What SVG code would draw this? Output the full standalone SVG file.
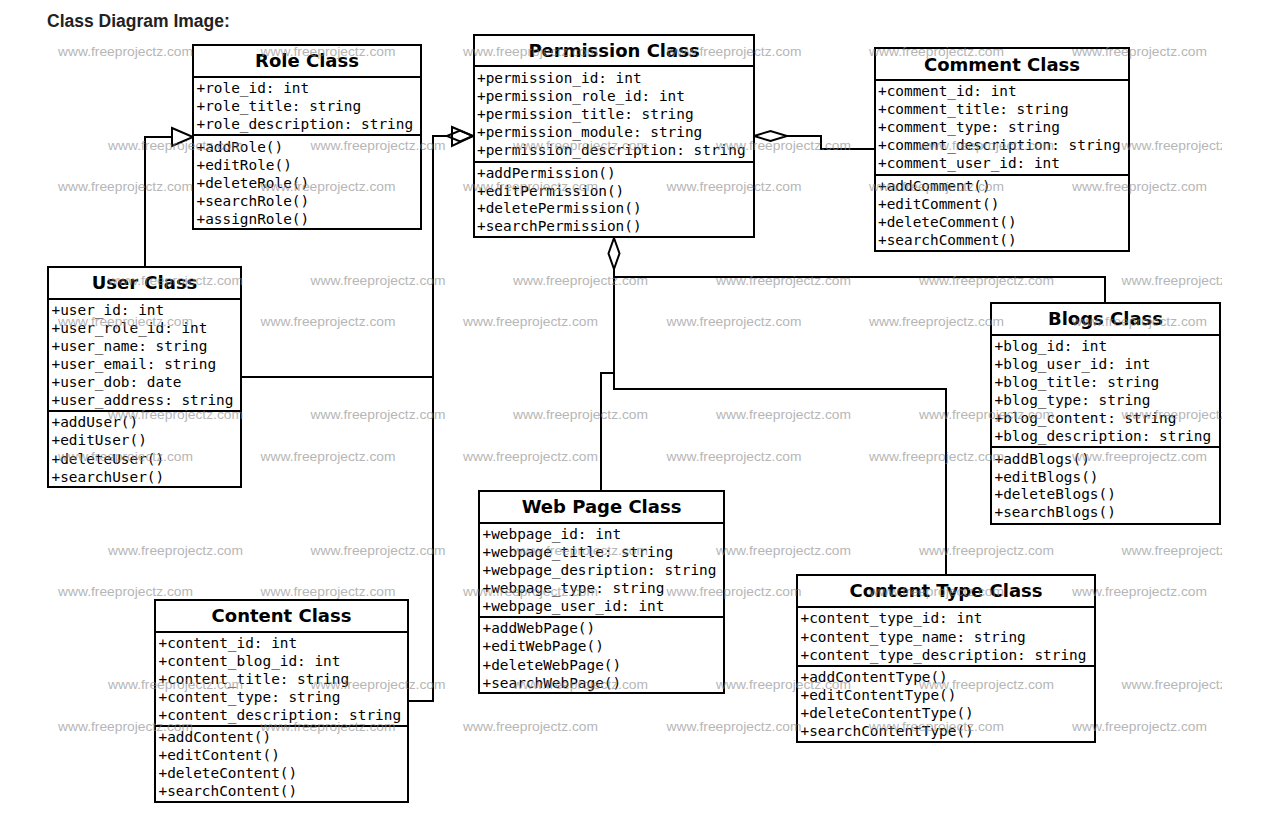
<svg xmlns="http://www.w3.org/2000/svg" width="1268" height="814" viewBox="0 0 1268 814">
  <style>
    .box { fill: #fff; stroke: #000; stroke-width: 2; }
    .sep { stroke: #000; stroke-width: 2; }
    .ttl { font-family: "DejaVu Sans", "Liberation Sans", sans-serif; font-weight: bold; font-size: 18px; text-anchor: middle; fill: #000; }
    .mem { font-family: "DejaVu Sans Mono", "Liberation Mono", monospace; font-size: 14.4px; fill: #000; }
    .wire { fill: none; stroke: #000; stroke-width: 2; }
    .head { fill: #fff; stroke: #000; stroke-width: 2; stroke-linejoin: miter; }
    .hollow { fill: none; stroke: #000; stroke-width: 2; }
    .wm { font-family: "Liberation Sans", Arial, sans-serif; font-size: 13.7px; fill: #8a8a8a; opacity: 0.62; }
    .heading { font-family: "Liberation Sans", Arial, sans-serif; font-weight: bold; font-size: 17.5px; fill: #222; }
  </style>
  <defs>
    <clipPath id="wmClip"><rect x="0" y="0" width="1222" height="814"/></clipPath>
  </defs>

  <rect x="0" y="0" width="1268" height="814" fill="#fff"/>
  <text class="heading" x="47" y="27">Class Diagram Image:</text>

  <!-- connectors -->
  <g id="connectors">
    <!-- User generalises Role -->
    <path class="wire" d="M145 267 V137 H172"/>
    <polygon class="head" points="172,128 193,137 172,146"/>
    <!-- User / Content to Permission via shared bus -->
    <path class="wire" d="M408 701 H433 V136 H447"/>
    <path class="wire" d="M241 377 H433"/>
    <polygon class="head" points="452,127 473,136 452,146"/>
    <polygon class="hollow" points="447,136 460,130.5 473,136 460,141.5"/>
    <!-- Comment aggregated into Permission -->
    <polygon class="head" points="754,136 770.5,131 787,136 770.5,141"/>
    <path class="wire" d="M787 136 H821 V149 H875"/>
    <!-- Permission bottom aggregation -->
    <polygon class="head" points="614,238 619.5,253.5 614,269 608.5,253.5"/>
    <path class="wire" d="M614 269 V389 H946 V575"/>
    <path class="wire" d="M614 277 H1105 V303"/>
    <path class="wire" d="M601 491 V373 H614"/>
  </g>

  <!-- Role -->
  <g id="role">
    <rect class="box" x="193" y="45" width="228" height="184"/>
    <line class="sep" x1="193" y1="77" x2="421" y2="77"/>
    <line class="sep" x1="193" y1="135" x2="421" y2="135"/>
    <text class="ttl" x="307" y="67">Role Class</text>
    <text class="mem" x="196.5" y="93">+role_id: int</text>
    <text class="mem" x="196.5" y="111">+role_title: string</text>
    <text class="mem" x="196.5" y="129">+role_description: string</text>
    <text class="mem" x="196.5" y="151.5">+addRole()</text>
    <text class="mem" x="196.5" y="169.5">+editRole()</text>
    <text class="mem" x="196.5" y="187.5">+deleteRole()</text>
    <text class="mem" x="196.5" y="205.5">+searchRole()</text>
    <text class="mem" x="196.5" y="223.5">+assignRole()</text>
  </g>

  <!-- Permission -->
  <g id="permission">
    <rect class="box" x="474" y="35" width="280" height="202"/>
    <line class="sep" x1="474" y1="66" x2="754" y2="66"/>
    <line class="sep" x1="474" y1="162" x2="754" y2="162"/>
    <text class="ttl" x="614" y="57">Permission Class</text>
    <text class="mem" x="477" y="83.3">+permission_id: int</text>
    <text class="mem" x="477" y="101.1">+permission_role_id: int</text>
    <text class="mem" x="477" y="118.9">+permission_title: string</text>
    <text class="mem" x="477" y="136.7">+permission_module: string</text>
    <text class="mem" x="477" y="154.5">+permission_description: string</text>
    <text class="mem" x="477" y="177.7">+addPermission()</text>
    <text class="mem" x="477" y="195.5">+editPermission()</text>
    <text class="mem" x="477" y="213.3">+deletePermission()</text>
    <text class="mem" x="477" y="231.1">+searchPermission()</text>
  </g>

  <!-- Comment -->
  <g id="comment">
    <rect class="box" x="875" y="48" width="254" height="203"/>
    <line class="sep" x1="875" y1="80" x2="1129" y2="80"/>
    <line class="sep" x1="875" y1="175" x2="1129" y2="175"/>
    <text class="ttl" x="1002" y="70.5">Comment Class</text>
    <text class="mem" x="878" y="96">+comment_id: int</text>
    <text class="mem" x="878" y="114">+comment_title: string</text>
    <text class="mem" x="878" y="132">+comment_type: string</text>
    <text class="mem" x="878" y="150">+comment_description: string</text>
    <text class="mem" x="878" y="168">+comment_user_id: int</text>
    <text class="mem" x="878" y="190.7">+addComment()</text>
    <text class="mem" x="878" y="208.7">+editComment()</text>
    <text class="mem" x="878" y="226.7">+deleteComment()</text>
    <text class="mem" x="878" y="244.7">+searchComment()</text>
  </g>

  <!-- User -->
  <g id="user">
    <rect class="box" x="48" y="267" width="193" height="220"/>
    <line class="sep" x1="48" y1="299" x2="241" y2="299"/>
    <line class="sep" x1="48" y1="411" x2="241" y2="411"/>
    <text class="ttl" x="144.5" y="288.5">User Class</text>
    <text class="mem" x="51.5" y="315">+user_id: int</text>
    <text class="mem" x="51.5" y="333">+user_role_id: int</text>
    <text class="mem" x="51.5" y="351">+user_name: string</text>
    <text class="mem" x="51.5" y="369">+user_email: string</text>
    <text class="mem" x="51.5" y="387">+user_dob: date</text>
    <text class="mem" x="51.5" y="405">+user_address: string</text>
    <text class="mem" x="51.5" y="427.3">+addUser()</text>
    <text class="mem" x="51.5" y="445.3">+editUser()</text>
    <text class="mem" x="51.5" y="463.5">+deleteUser()</text>
    <text class="mem" x="51.5" y="481.5">+searchUser()</text>
  </g>

  <!-- Blogs -->
  <g id="blogs">
    <rect class="box" x="991" y="303" width="229" height="221"/>
    <line class="sep" x1="991" y1="335" x2="1220" y2="335"/>
    <line class="sep" x1="991" y1="447" x2="1220" y2="447"/>
    <text class="ttl" x="1105.5" y="325">Blogs Class</text>
    <text class="mem" x="994.5" y="351">+blog_id: int</text>
    <text class="mem" x="994.5" y="369">+blog_user_id: int</text>
    <text class="mem" x="994.5" y="387">+blog_title: string</text>
    <text class="mem" x="994.5" y="405">+blog_type: string</text>
    <text class="mem" x="994.5" y="423">+blog_content: string</text>
    <text class="mem" x="994.5" y="441">+blog_description: string</text>
    <text class="mem" x="994.5" y="464">+addBlogs()</text>
    <text class="mem" x="994.5" y="481.7">+editBlogs()</text>
    <text class="mem" x="994.5" y="499.4">+deleteBlogs()</text>
    <text class="mem" x="994.5" y="517.1">+searchBlogs()</text>
  </g>

  <!-- Web Page -->
  <g id="webpage">
    <rect class="box" x="479" y="491" width="245" height="202"/>
    <line class="sep" x1="479" y1="523" x2="724" y2="523"/>
    <line class="sep" x1="479" y1="617" x2="724" y2="617"/>
    <text class="ttl" x="601.5" y="512.5">Web Page Class</text>
    <text class="mem" x="482.5" y="539">+webpage_id: int</text>
    <text class="mem" x="482.5" y="557">+webpage_title: string</text>
    <text class="mem" x="482.5" y="575">+webpage_desription: string</text>
    <text class="mem" x="482.5" y="593">+webpage_type: string</text>
    <text class="mem" x="482.5" y="611">+webpage_user_id: int</text>
    <text class="mem" x="482.5" y="633.3">+addWebPage()</text>
    <text class="mem" x="482.5" y="651.3">+editWebPage()</text>
    <text class="mem" x="482.5" y="669.5">+deleteWebPage()</text>
    <text class="mem" x="482.5" y="687.5">+searchWebPage()</text>
  </g>

  <!-- Content Type -->
  <g id="contenttype">
    <rect class="box" x="797" y="575" width="298" height="167"/>
    <line class="sep" x1="797" y1="607" x2="1095" y2="607"/>
    <line class="sep" x1="797" y1="666" x2="1095" y2="666"/>
    <text class="ttl" x="946" y="597">Content Type Class</text>
    <text class="mem" x="800.5" y="623.3">+content_type_id: int</text>
    <text class="mem" x="800.5" y="641.5">+content_type_name: string</text>
    <text class="mem" x="800.5" y="659.5">+content_type_description: string</text>
    <text class="mem" x="800.5" y="681.7">+addContentType()</text>
    <text class="mem" x="800.5" y="699.9">+editContentType()</text>
    <text class="mem" x="800.5" y="718">+deleteContentType()</text>
    <text class="mem" x="800.5" y="736">+searchContentType()</text>
  </g>

  <!-- Content -->
  <g id="content">
    <rect class="box" x="155" y="600" width="253" height="202"/>
    <line class="sep" x1="155" y1="632" x2="408" y2="632"/>
    <line class="sep" x1="155" y1="726" x2="408" y2="726"/>
    <text class="ttl" x="281.5" y="622">Content Class</text>
    <text class="mem" x="158.5" y="647.7">+content_id: int</text>
    <text class="mem" x="158.5" y="665.7">+content_blog_id: int</text>
    <text class="mem" x="158.5" y="684">+content_title: string</text>
    <text class="mem" x="158.5" y="702">+content_type: string</text>
    <text class="mem" x="158.5" y="720">+content_description: string</text>
    <text class="mem" x="158.5" y="741.7">+addContent()</text>
    <text class="mem" x="158.5" y="759.7">+editContent()</text>
    <text class="mem" x="158.5" y="778">+deleteContent()</text>
    <text class="mem" x="158.5" y="796">+searchContent()</text>
  </g>

  <!-- site stamp tiled over the sheet -->
  <g id="watermark" clip-path="url(#wmClip)">
    <text class="wm" x="58" y="55.5" textLength="135" lengthAdjust="spacingAndGlyphs">www.freeprojectz.com</text>
    <text class="wm" x="260.5" y="55.5" textLength="135" lengthAdjust="spacingAndGlyphs">www.freeprojectz.com</text>
    <text class="wm" x="463" y="55.5" textLength="135" lengthAdjust="spacingAndGlyphs">www.freeprojectz.com</text>
    <text class="wm" x="666.5" y="55.5" textLength="135" lengthAdjust="spacingAndGlyphs">www.freeprojectz.com</text>
    <text class="wm" x="869" y="55.5" textLength="135" lengthAdjust="spacingAndGlyphs">www.freeprojectz.com</text>
    <text class="wm" x="1072" y="55.5" textLength="135" lengthAdjust="spacingAndGlyphs">www.freeprojectz.com</text>

    <text class="wm" x="108" y="149.5" textLength="135" lengthAdjust="spacingAndGlyphs">www.freeprojectz.com</text>
    <text class="wm" x="310.5" y="149.5" textLength="135" lengthAdjust="spacingAndGlyphs">www.freeprojectz.com</text>
    <text class="wm" x="513" y="149.5" textLength="135" lengthAdjust="spacingAndGlyphs">www.freeprojectz.com</text>
    <text class="wm" x="716" y="149.5" textLength="135" lengthAdjust="spacingAndGlyphs">www.freeprojectz.com</text>
    <text class="wm" x="919" y="149.5" textLength="135" lengthAdjust="spacingAndGlyphs">www.freeprojectz.com</text>
    <text class="wm" x="1121.5" y="149.5" textLength="135" lengthAdjust="spacingAndGlyphs">www.freeprojectz.com</text>

    <text class="wm" x="58" y="190.5" textLength="135" lengthAdjust="spacingAndGlyphs">www.freeprojectz.com</text>
    <text class="wm" x="260.5" y="190.5" textLength="135" lengthAdjust="spacingAndGlyphs">www.freeprojectz.com</text>
    <text class="wm" x="463" y="190.5" textLength="135" lengthAdjust="spacingAndGlyphs">www.freeprojectz.com</text>
    <text class="wm" x="666.5" y="190.5" textLength="135" lengthAdjust="spacingAndGlyphs">www.freeprojectz.com</text>
    <text class="wm" x="869" y="190.5" textLength="135" lengthAdjust="spacingAndGlyphs">www.freeprojectz.com</text>
    <text class="wm" x="1072" y="190.5" textLength="135" lengthAdjust="spacingAndGlyphs">www.freeprojectz.com</text>

    <text class="wm" x="108" y="284.5" textLength="135" lengthAdjust="spacingAndGlyphs">www.freeprojectz.com</text>
    <text class="wm" x="310.5" y="284.5" textLength="135" lengthAdjust="spacingAndGlyphs">www.freeprojectz.com</text>
    <text class="wm" x="513" y="284.5" textLength="135" lengthAdjust="spacingAndGlyphs">www.freeprojectz.com</text>
    <text class="wm" x="716" y="284.5" textLength="135" lengthAdjust="spacingAndGlyphs">www.freeprojectz.com</text>
    <text class="wm" x="919" y="284.5" textLength="135" lengthAdjust="spacingAndGlyphs">www.freeprojectz.com</text>
    <text class="wm" x="1121.5" y="284.5" textLength="135" lengthAdjust="spacingAndGlyphs">www.freeprojectz.com</text>

    <text class="wm" x="58" y="326" textLength="135" lengthAdjust="spacingAndGlyphs">www.freeprojectz.com</text>
    <text class="wm" x="260.5" y="326" textLength="135" lengthAdjust="spacingAndGlyphs">www.freeprojectz.com</text>
    <text class="wm" x="463" y="326" textLength="135" lengthAdjust="spacingAndGlyphs">www.freeprojectz.com</text>
    <text class="wm" x="666.5" y="326" textLength="135" lengthAdjust="spacingAndGlyphs">www.freeprojectz.com</text>
    <text class="wm" x="869" y="326" textLength="135" lengthAdjust="spacingAndGlyphs">www.freeprojectz.com</text>
    <text class="wm" x="1072" y="326" textLength="135" lengthAdjust="spacingAndGlyphs">www.freeprojectz.com</text>

    <text class="wm" x="108" y="419" textLength="135" lengthAdjust="spacingAndGlyphs">www.freeprojectz.com</text>
    <text class="wm" x="310.5" y="419" textLength="135" lengthAdjust="spacingAndGlyphs">www.freeprojectz.com</text>
    <text class="wm" x="513" y="419" textLength="135" lengthAdjust="spacingAndGlyphs">www.freeprojectz.com</text>
    <text class="wm" x="716" y="419" textLength="135" lengthAdjust="spacingAndGlyphs">www.freeprojectz.com</text>
    <text class="wm" x="919" y="419" textLength="135" lengthAdjust="spacingAndGlyphs">www.freeprojectz.com</text>
    <text class="wm" x="1121.5" y="419" textLength="135" lengthAdjust="spacingAndGlyphs">www.freeprojectz.com</text>

    <text class="wm" x="58" y="460.5" textLength="135" lengthAdjust="spacingAndGlyphs">www.freeprojectz.com</text>
    <text class="wm" x="260.5" y="460.5" textLength="135" lengthAdjust="spacingAndGlyphs">www.freeprojectz.com</text>
    <text class="wm" x="463" y="460.5" textLength="135" lengthAdjust="spacingAndGlyphs">www.freeprojectz.com</text>
    <text class="wm" x="666.5" y="460.5" textLength="135" lengthAdjust="spacingAndGlyphs">www.freeprojectz.com</text>
    <text class="wm" x="869" y="460.5" textLength="135" lengthAdjust="spacingAndGlyphs">www.freeprojectz.com</text>
    <text class="wm" x="1072" y="460.5" textLength="135" lengthAdjust="spacingAndGlyphs">www.freeprojectz.com</text>

    <text class="wm" x="108" y="554.5" textLength="135" lengthAdjust="spacingAndGlyphs">www.freeprojectz.com</text>
    <text class="wm" x="310.5" y="554.5" textLength="135" lengthAdjust="spacingAndGlyphs">www.freeprojectz.com</text>
    <text class="wm" x="513" y="554.5" textLength="135" lengthAdjust="spacingAndGlyphs">www.freeprojectz.com</text>
    <text class="wm" x="716" y="554.5" textLength="135" lengthAdjust="spacingAndGlyphs">www.freeprojectz.com</text>
    <text class="wm" x="919" y="554.5" textLength="135" lengthAdjust="spacingAndGlyphs">www.freeprojectz.com</text>
    <text class="wm" x="1121.5" y="554.5" textLength="135" lengthAdjust="spacingAndGlyphs">www.freeprojectz.com</text>

    <text class="wm" x="58" y="596" textLength="135" lengthAdjust="spacingAndGlyphs">www.freeprojectz.com</text>
    <text class="wm" x="260.5" y="596" textLength="135" lengthAdjust="spacingAndGlyphs">www.freeprojectz.com</text>
    <text class="wm" x="463" y="596" textLength="135" lengthAdjust="spacingAndGlyphs">www.freeprojectz.com</text>
    <text class="wm" x="666.5" y="596" textLength="135" lengthAdjust="spacingAndGlyphs">www.freeprojectz.com</text>
    <text class="wm" x="869" y="596" textLength="135" lengthAdjust="spacingAndGlyphs">www.freeprojectz.com</text>
    <text class="wm" x="1072" y="596" textLength="135" lengthAdjust="spacingAndGlyphs">www.freeprojectz.com</text>

    <text class="wm" x="108" y="689" textLength="135" lengthAdjust="spacingAndGlyphs">www.freeprojectz.com</text>
    <text class="wm" x="310.5" y="689" textLength="135" lengthAdjust="spacingAndGlyphs">www.freeprojectz.com</text>
    <text class="wm" x="513" y="689" textLength="135" lengthAdjust="spacingAndGlyphs">www.freeprojectz.com</text>
    <text class="wm" x="716" y="689" textLength="135" lengthAdjust="spacingAndGlyphs">www.freeprojectz.com</text>
    <text class="wm" x="919" y="689" textLength="135" lengthAdjust="spacingAndGlyphs">www.freeprojectz.com</text>
    <text class="wm" x="1121.5" y="689" textLength="135" lengthAdjust="spacingAndGlyphs">www.freeprojectz.com</text>

    <text class="wm" x="58" y="731" textLength="135" lengthAdjust="spacingAndGlyphs">www.freeprojectz.com</text>
    <text class="wm" x="260.5" y="731" textLength="135" lengthAdjust="spacingAndGlyphs">www.freeprojectz.com</text>
    <text class="wm" x="463" y="731" textLength="135" lengthAdjust="spacingAndGlyphs">www.freeprojectz.com</text>
    <text class="wm" x="666.5" y="731" textLength="135" lengthAdjust="spacingAndGlyphs">www.freeprojectz.com</text>
    <text class="wm" x="869" y="731" textLength="135" lengthAdjust="spacingAndGlyphs">www.freeprojectz.com</text>
    <text class="wm" x="1072" y="731" textLength="135" lengthAdjust="spacingAndGlyphs">www.freeprojectz.com</text>
  </g>
</svg>
